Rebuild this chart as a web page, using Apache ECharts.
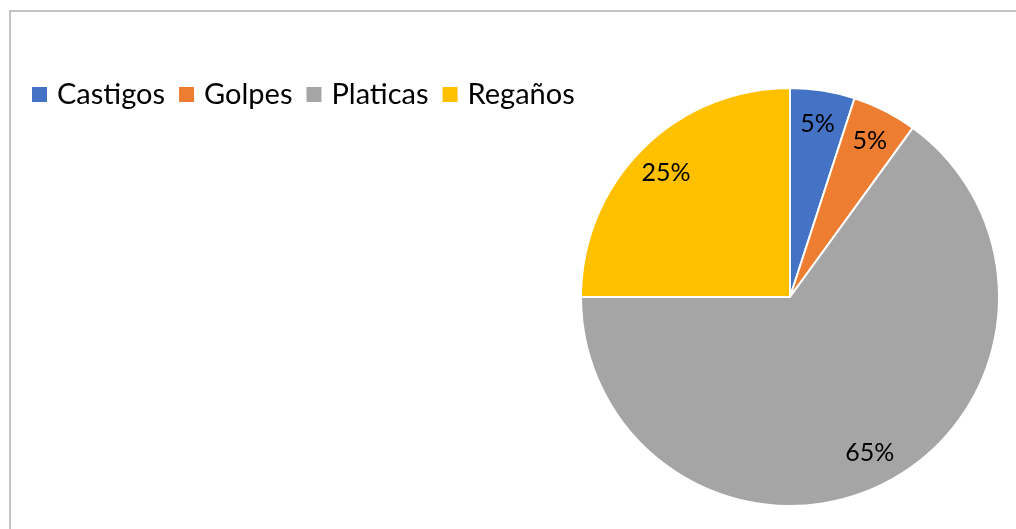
<!DOCTYPE html>
<html>
<head>
<meta charset="utf-8">
<script src="https://cdn.jsdelivr.net/npm/echarts@6/dist/echarts.min.js"></script>
<style>
html,body{margin:0;padding:0;background:#fff;}
#chart{width:1016px;height:529px;}
</style>
</head>
<body>
<div id="chart"></div>
<script>
var categories=["Castigos","Golpes","Platicas","Regaños"];
var values=[5,5,65,25];//porcentajes
var colors=["#4472C4","#ED7D31","#A5A5A5","#FFC000"];

var pieData=[];
for(var i=0;i<categories.length;i++){
	pieData.push({name:categories[i],value:values[i],itemStyle:{color:colors[i]}});
}
var myChart=echarts.init(document.getElementById('chart'));
var option={
	animation:false,
	backgroundColor:"#fff",
	graphic:[{
		type:"rect",
		shape:{x:10,y:11,width:1010,height:540},
		style:{fill:null,stroke:"#b0b0b0",lineWidth:1.5},
		silent:true
	}],
	legend:{
		data:categories,
		left:25,
		top:75,
		itemWidth:17,
		itemHeight:17,
		itemGap:12,
		icon:"rect",
		textStyle:{fontFamily:"Lato",fontSize:29,color:"#000",padding:[0,0,0,4]}
	},
	series:[{
		type:"pie",
		center:[790,297],
		radius:[0,209],
		startAngle:90,
		clockwise:true,
		data:pieData,
		label:{show:false},
		labelLine:{show:false},
		itemStyle:{borderColor:"#fff",borderWidth:2},
		emphasis:{disabled:true}
	},{
		//solo para las etiquetas
		type:"pie",
		center:[790,297],
		radius:[136,209],
		startAngle:90,
		clockwise:true,
		silent:true,
		data:pieData.map(function(d){return {name:d.name,value:d.value,itemStyle:{color:"transparent"}};}),
		label:{show:true,position:"inside",formatter:"{c}%",fontFamily:"Lato",fontSize:25,color:"#000"},
		labelLine:{show:false},
		emphasis:{disabled:true}
	}]
};
myChart.setOption(option);
</script>
</body>
</html>
